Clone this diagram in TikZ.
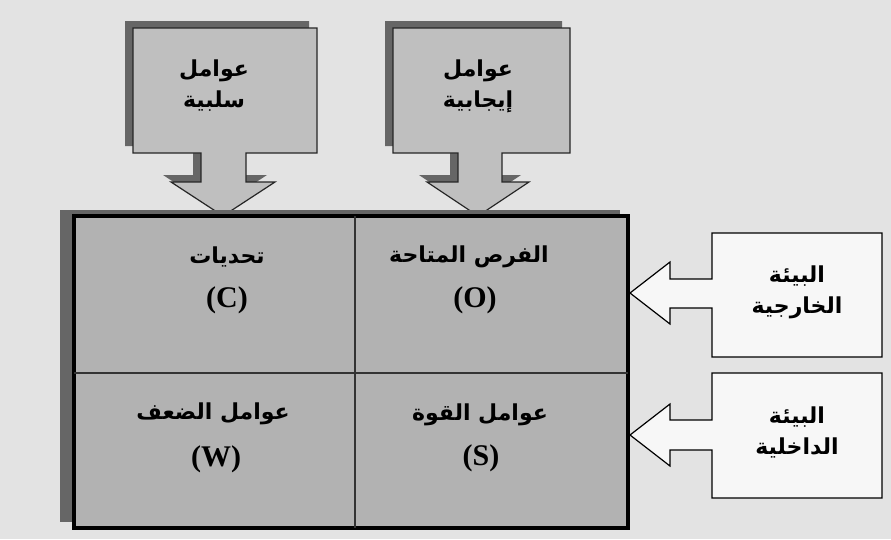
\documentclass[tikz,border=0pt]{standalone}
\usepackage{fontspec}
\setmainfont{Liberation Serif}
\newfontfamily\arabicfont[Script=Arabic]{DejaVu Sans}
\TeXXeTstate=1
\usetikzlibrary{positioning}

\begin{document}
\begin{tikzpicture}[
  x=1pt, y=-1pt,
  cellbg/.style={fill=black!30},
  shade/.style={fill=black!60},
  factorbox/.style={draw=black!85, line width=1.2pt, fill=black!25},
  envbox/.style={draw=black, line width=1.2pt, fill=black!3},
  artext/.style={font=\arabicfont\bfseries\fontsize{22}{31}\selectfont, align=center, inner sep=0pt},
  lettext/.style={font=\bfseries\fontsize{30}{32}\selectfont, inner sep=0pt}
]
  % Background
  \fill[black!11] (0,0) rectangle (891,539);
  \useasboundingbox (0,0) rectangle (891,539);

  % Negative factors (shadow, then box)
  \fill[shade] (125,21) -- (309,21) -- (309,146) -- (238,146) -- (238,175) -- (267,175)
    -- (215,209) -- (163,175) -- (193,175) -- (193,146) -- (125,146) -- cycle;
  \draw[factorbox] (133,28) -- (317,28) -- (317,153) -- (246,153) -- (246,182) -- (275,182)
    -- (223,216) -- (171,182) -- (201,182) -- (201,153) -- (133,153) -- cycle;
  \node[artext] (negative) at (214,86) {\beginR عوامل\endR\\\beginR سلبية\endR};

  % Positive factors (shadow, then box)
  \fill[shade] (385,21) -- (562,21) -- (562,146) -- (494,146) -- (494,175) -- (521,175)
    -- (470,209) -- (419,175) -- (450,175) -- (450,146) -- (385,146) -- cycle;
  \draw[factorbox] (393,28) -- (570,28) -- (570,153) -- (502,153) -- (502,182) -- (529,182)
    -- (478,216) -- (427,182) -- (458,182) -- (458,153) -- (393,153) -- cycle;
  \node[artext] (positive) at (478,86) {\beginR عوامل\endR\\\beginR إيجابية\endR};

  % The matrix
  \fill[shade] (60,210) rectangle (620,522);
  \draw[cellbg, line width=3.5pt] (74,216) rectangle (628,528);
  \draw[line width=1.2pt, black!80] (355,216) -- (355,528);
  \draw[line width=1.2pt, black!80] (74,373) -- (628,373);

  % Cell labels
  \node[artext] (challenges) at (227,257) {\beginR تحديات\endR};
  \node[lettext] (cLetter) at (227,300) {(C)};
  \node[artext] (chances) at (469,257) {\beginR الفرص المتاحة\endR};
  \node[lettext] (oLetter) at (475,300) {(O)};
  \node[artext] (weakness) at (213,414) {\beginR عوامل الضعف\endR};
  \node[lettext] (wLetter) at (216,459) {(W)};
  \node[artext] (strength) at (480,415) {\beginR عوامل القوة\endR};
  \node[lettext] (sLetter) at (481,458) {(S)};

  % External environment
  \draw[envbox] (712,233) -- (882,233) -- (882,357) -- (712,357) -- (712,308) -- (670,308)
    -- (670,324) -- (630,293) -- (670,262) -- (670,279) -- (712,279) -- cycle;
  \node[artext] (external) at (797,292) {\beginR البيئة\endR\\\beginR الخارجية\endR};

  % Internal environment
  \draw[envbox] (712,373) -- (882,373) -- (882,498) -- (712,498) -- (712,450) -- (670,450)
    -- (670,466) -- (630,435) -- (670,404) -- (670,420) -- (712,420) -- cycle;
  \node[artext] (internal) at (797,432) {\beginR البيئة\endR\\\beginR الداخلية\endR};
\end{tikzpicture}
\end{document}
